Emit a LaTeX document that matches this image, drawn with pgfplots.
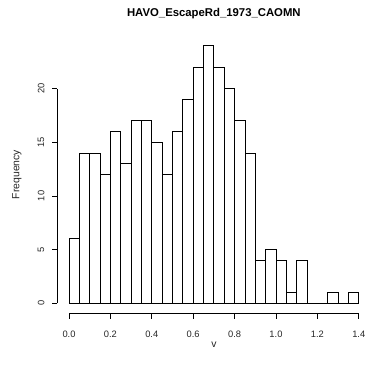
\documentclass[border=0pt]{standalone}
\usepackage{pgfplots}
\pgfplotsset{compat=1.18}
\usepackage{fontspec}
\setmainfont{Liberation Sans}
\begin{document}
\begin{tikzpicture}
\begin{axis}[
  at={(43.05pt,38.55pt)}, anchor=south west,
  scale only axis, width=234.7pt, height=208.7pt,
  xmin=-0.056, xmax=1.456, ymin=-0.96, ymax=24.96,
  axis lines=left,
  axis line style={-, black, line width=0.6pt},
  x axis line style={shorten <=8.7pt, shorten >=8.7pt},
  y axis line style={shorten <=7.73pt, shorten >=39.9pt},
  tick align=outside, major tick length=3.75pt,
  tick style={black, line width=0.6pt},
  xtick={0,0.2,0.4,0.6,0.8,1.0,1.2,1.4},
  xticklabels={0.0,0.2,0.4,0.6,0.8,1.0,1.2,1.4},
  ytick={0,5,10,15,20},
  yticklabels={0,5,10,15,20},
  ticklabel style={font=\fontsize{7}{8}\selectfont, text=black!85},
  xticklabel style={xshift=0pt, yshift=-12pt, anchor=center},
  yticklabel style={xshift=-8.5pt, rotate=90, anchor=center},
  xlabel={v}, ylabel={Frequency},
  label style={font=\fontsize{7.8}{9}\selectfont, text=black!85},
  xlabel style={at={(axis description cs:0.5,-0.1131)}, anchor=center},
  ylabel style={at={(axis description cs:-0.1291,0.5)}, anchor=center},
  title={HAVO\_EscapeRd\_1973\_CAOMN},
  every axis title shift=0pt,
  title style={font=\fontsize{8.5}{10}\selectfont\bfseries, at={(axis description cs:0.5,1.079)}, anchor=center, yshift=0pt},
  clip=false,
]
\addplot[ybar interval, draw=black, fill=white, line width=0.6pt] coordinates {
(0.00,6) (0.05,14) (0.10,14) (0.15,12) (0.20,16) (0.25,13) (0.30,17)
(0.35,17) (0.40,15) (0.45,12) (0.50,16) (0.55,19) (0.60,22) (0.65,24)
(0.70,22) (0.75,20) (0.80,17) (0.85,14) (0.90,4) (0.95,5) (1.00,4)
(1.05,1) (1.10,4) (1.15,0) (1.20,0) (1.25,1) (1.30,0) (1.35,1) (1.40,1)
};
\end{axis}
\pgfresetboundingbox
\useasboundingbox (0,0) rectangle (274.5pt,273.75pt);
\end{tikzpicture}
\end{document}
